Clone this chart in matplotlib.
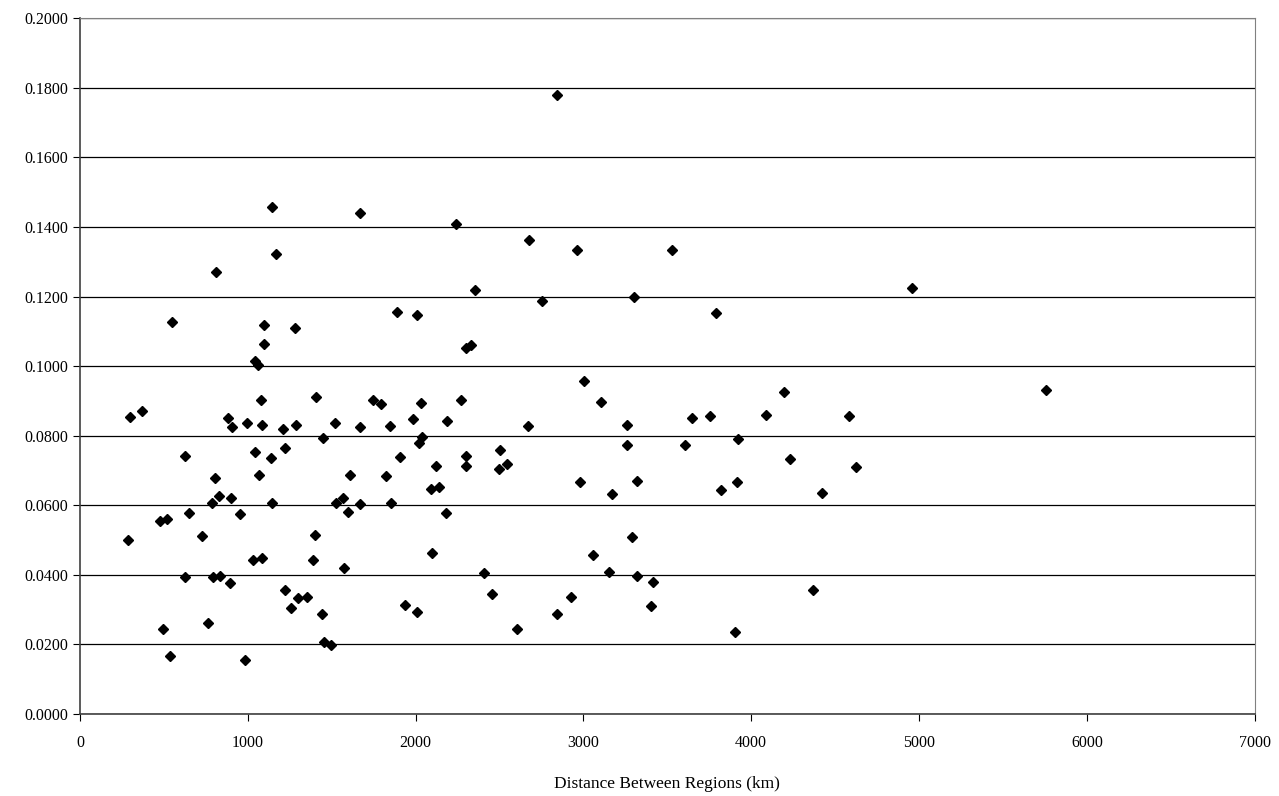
import matplotlib.pyplot as plt
from matplotlib.ticker import FormatStrFormatter

# distance between regions (km) and the measured value
distance = [
    297, 371, 285, 627, 478, 518, 649, 727, 803, 787, 831, 900, 956, 884, 904,
    996, 1082, 1080, 1046, 1137, 1064, 1145, 1209, 1287, 1221, 1450, 1406, 1518,
    1669, 1747, 1608, 1526, 1570, 1600, 1671, 1400, 1386, 1574, 1032, 1082, 624,
    795, 833, 896, 1223, 1299, 1355, 1259, 1442, 1452, 1494, 494, 536, 763, 982,
    1096, 1046, 1060,
    1145, 1667, 1167, 811, 550, 1094, 1281,
    2843, 2238, 2677, 2959, 3530, 2357, 2752, 3302, 1892, 2006,
    2298, 2328, 1791, 1849, 2034, 1984, 2185, 2270, 2038, 2022, 1907, 1825, 1855,
    2119, 2298, 2302, 2091, 2141, 2183, 2503, 2497, 2543, 2672, 2097, 2410, 2453,
    1938, 2010, 2602, 2841, 2928, 3004, 3103, 3262, 3258, 3322, 2980, 3171, 3288,
    3058, 3155, 3320, 3417, 3400,
    4195, 3647, 3753, 4088, 4582, 3608, 3924, 4233, 4622, 3819, 3916, 4422, 4371,
    3906, 4956, 5759, 3791,
]
value = [
    0.0854, 0.0871, 0.0500, 0.0741, 0.0556, 0.0560, 0.0577, 0.0511, 0.0679, 0.0608,
    0.0628, 0.0621, 0.0576, 0.0852, 0.0824, 0.0837, 0.0830, 0.0902, 0.0754, 0.0737,
    0.0687, 0.0608, 0.0819, 0.0830, 0.0765, 0.0794, 0.0912, 0.0836, 0.0825, 0.0903,
    0.0687, 0.0608, 0.0620, 0.0580, 0.0604, 0.0516, 0.0442, 0.0421, 0.0444, 0.0449,
    0.0393, 0.0395, 0.0396, 0.0378, 0.0357, 0.0333, 0.0335, 0.0305, 0.0288, 0.0206,
    0.0199, 0.0243, 0.0168, 0.0261, 0.0154,
    0.1065, 0.1015, 0.1003,
    0.1457, 0.1439, 0.1321, 0.1272, 0.1128, 0.1118, 0.1109,
    0.1780, 0.1409, 0.1363, 0.1335, 0.1335, 0.1218, 0.1186, 0.1198, 0.1155, 0.1147,
    0.1053, 0.1060, 0.0891, 0.0828, 0.0893, 0.0847, 0.0842, 0.0902, 0.0795, 0.0778,
    0.0739, 0.0684, 0.0608, 0.0714, 0.0741, 0.0713, 0.0648, 0.0654, 0.0579, 0.0759,
    0.0705, 0.0720, 0.0829, 0.0463, 0.0405, 0.0345, 0.0314, 0.0293, 0.0245, 0.0287,
    0.0335, 0.0957, 0.0896, 0.0832, 0.0773, 0.0671, 0.0667, 0.0633, 0.0509, 0.0457,
    0.0407, 0.0397, 0.0379, 0.0311,
    0.0925, 0.0851, 0.0857, 0.0859, 0.0856, 0.0773, 0.0790, 0.0733, 0.0711, 0.0644,
    0.0668, 0.0635, 0.0357, 0.0237, 0.1226, 0.0932, 0.1152,
]

plt.rcParams['font.family'] = ['Liberation Serif', 'DejaVu Serif']

fig = plt.figure(figsize=(12.79, 7.96), dpi=100)
ax = fig.add_axes([0.0625, 0.103, 0.9185, 0.874])

ax.plot(distance, value, linestyle='none', marker='D', markersize=5.2,
        color='black', zorder=3)

ax.set_xlim(0, 7000)
ax.set_ylim(0, 0.2)
ax.set_xticks(range(0, 7001, 1000))
ax.set_yticks([i * 0.02 for i in range(11)])
ax.yaxis.set_major_formatter(FormatStrFormatter('%.4f'))
ax.tick_params(labelsize=11.5, direction='out', length=5, color='black')
ax.tick_params(axis='x', pad=10)
ax.grid(axis='y', color='black', linewidth=0.9)
ax.set_axisbelow(True)

for side in ['top', 'right']:
    ax.spines[side].set_color('#808080')
for side in ['left', 'bottom']:
    ax.spines[side].set_color('#404040')
    ax.spines[side].set_linewidth(1.2)

ax.set_xlabel('Distance Between Regions (km)', fontsize=12.5, labelpad=18)

fig.savefig('out.png', dpi=100)
